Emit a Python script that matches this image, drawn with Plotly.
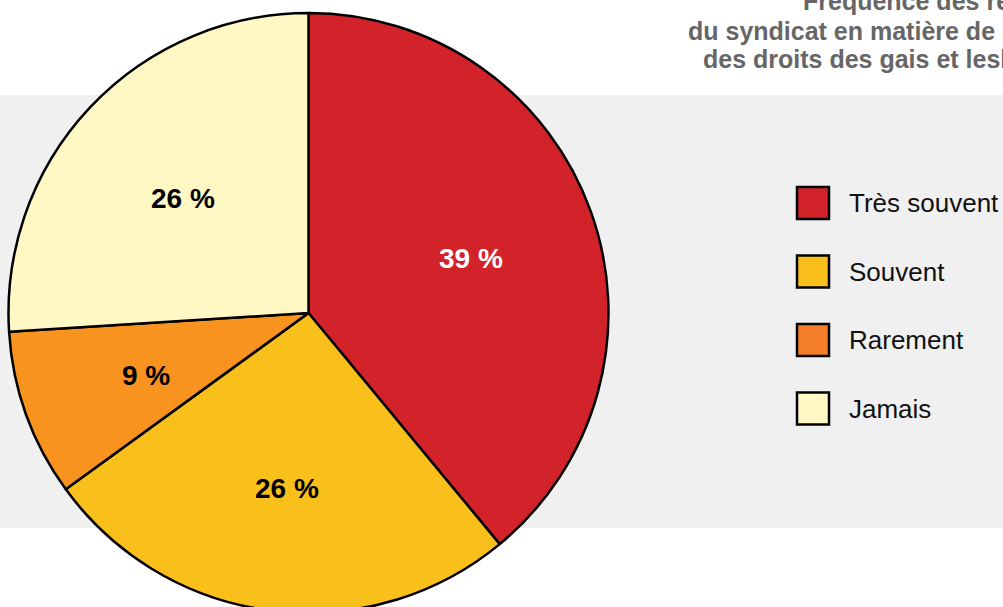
import math
import plotly.graph_objects as go

# ---- data ----
categories = ["Très souvent", "Souvent", "Rarement", "Jamais"]
values = [39, 26, 9, 26]
slice_colors = ["#D2232A", "#F9BF1B", "#F7931E", "#FFF8C4"]
legend_colors = ["#D2232A", "#F9BF1B", "#F47E2A", "#FFF8C4"]
label_colors = ["#FFFFFF", "#000000", "#000000", "#000000"]
title_lines = [
    "Fréquence des revendications",
    "du syndicat en matière de défense",
    "des droits des gais et lesbiennes",
]

# ---- layout geometry (pixels) ----
W, H = 1003, 625
CX, CY, R = 308.5, 313.0, 300.0
FONT = "Liberation Sans, Arial, Helvetica, sans-serif"


def px(x):
    return x / W


def py(y):
    return 1 - y / H


fig = go.Figure()
fig.add_trace(go.Pie(
    labels=categories,
    values=values,
    sort=False,
    direction="clockwise",
    rotation=0,
    marker=dict(colors=slice_colors, line=dict(color="#000000", width=2.5)),
    textinfo="none",
    hoverinfo="label+percent",
    showlegend=False,
    domain=dict(x=[px(CX - R), px(CX + R)], y=[py(CY + R), py(CY - R)]),
))

annotations = []
# slice labels placed along each slice's mid angle
total = sum(values)
cum = 0
for v, c in zip(values, label_colors):
    mid = (cum + v / 2) / total * 2 * math.pi
    cum += v
    r = 0.575 * R
    x = CX + r * math.sin(mid)
    y = CY - r * math.cos(mid) + 4
    annotations.append(dict(
        x=px(x), y=py(y), xref="paper", yref="paper",
        text=f"<b>{v} %</b>", showarrow=False,
        font=dict(family=FONT, size=28, color=c),
        xanchor="center", yanchor="middle",
    ))

# title lines (cropped on the right in the reference)
title_x = [801, 686, 701]
title_y = [1, 31, 59]
for t, tx, ty in zip(title_lines, title_x, title_y):
    annotations.append(dict(
        x=px(tx), y=py(ty), xref="paper", yref="paper",
        text=f"<b>{t}</b>", showarrow=False,
        font=dict(family=FONT, size=25, color="#666666"),
        xanchor="left", yanchor="middle",
    ))

# custom legend
shapes = [dict(type="rect", xref="paper", yref="paper", layer="below",
               x0=0, x1=1, y0=py(528), y1=py(95),
               fillcolor="#F0F0F0", line=dict(width=0))]
leg_y0, leg_dy = 203, 68.5
for i, (cat, col) in enumerate(zip(categories, legend_colors)):
    yc = leg_y0 + i * leg_dy
    shapes.append(dict(type="rect", xref="paper", yref="paper",
                       x0=px(797), x1=px(829), y0=py(yc + 16), y1=py(yc - 16),
                       fillcolor=col, line=dict(color="#000000", width=2.5)))
    annotations.append(dict(
        x=px(847), y=py(yc), xref="paper", yref="paper",
        text=cat, showarrow=False,
        font=dict(family=FONT, size=26, color="#111111"),
        xanchor="left", yanchor="middle",
    ))

fig.update_layout(
    width=W, height=H,
    margin=dict(l=0, r=0, t=0, b=0),
    paper_bgcolor="#FFFFFF",
    plot_bgcolor="#FFFFFF",
    showlegend=False,
    annotations=annotations,
    shapes=shapes,
)

fig.write_html(
    "out.html",
    config={"displayModeBar": False},
    post_script="document.body.style.margin='0';document.body.style.overflow='hidden';",
)
